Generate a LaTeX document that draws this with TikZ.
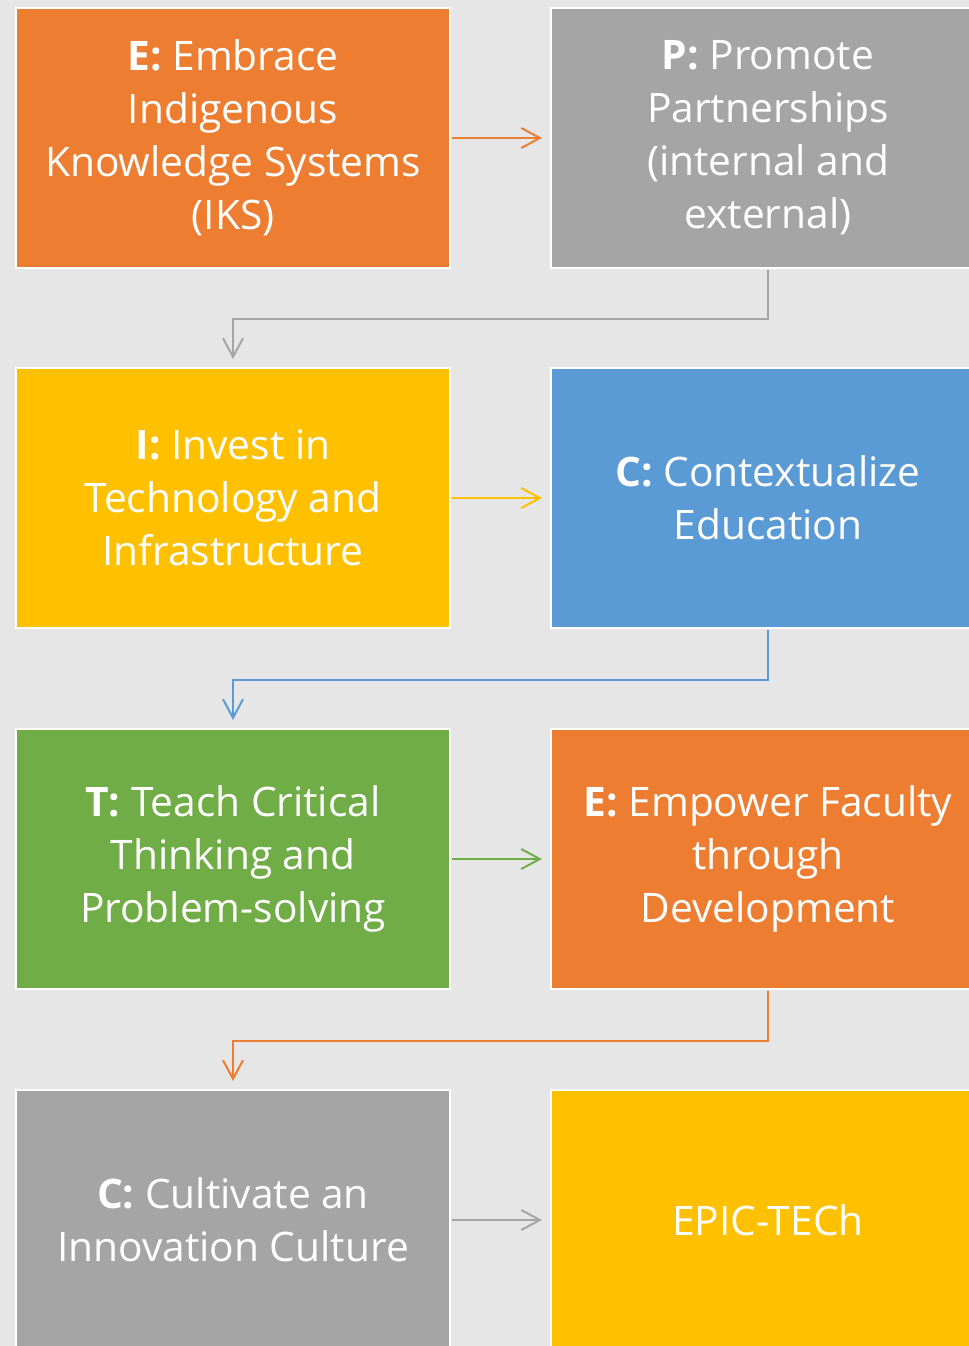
\documentclass[tikz,border=0pt]{standalone}
\usepackage{fontspec}
\setmainfont{Open Sans}
\usetikzlibrary{arrows.meta}
\definecolor{bggrey}{HTML}{E7E6E6}
\definecolor{accorange}{HTML}{ED7D31}
\definecolor{accgrey}{HTML}{A5A5A5}
\definecolor{accyellow}{HTML}{FFC000}
\definecolor{accblue}{HTML}{5B9BD5}
\definecolor{accgreen}{HTML}{70AD47}

\begin{document}
\begin{tikzpicture}[
  x=0.75pt, y=-0.75pt,
  >={Straight Barb[length=14pt, width=15pt, line width=1.5pt]},
  every node/.style={font=\fontsize{30.5}{39.75}\selectfont, text=white, align=center},
  stepbox/.style={rectangle, minimum width=325.5pt, minimum height=195pt, draw=white, line width=1.5pt, inner sep=0pt},
  orangebox/.style={stepbox, fill=accorange},
  greybox/.style={stepbox, fill=accgrey},
  yellowbox/.style={stepbox, fill=accyellow},
  bluebox/.style={stepbox, fill=accblue},
  greenbox/.style={stepbox, fill=accgreen},
  link/.style={->, line width=1.5pt, shorten >=6pt, shorten <=1pt},
]

\useasboundingbox (0,0) rectangle (969,1346);
\clip (0,0) rectangle (969,1346);
\fill[bggrey] (0,0) rectangle (969,1346);

% ---- row 1 ----
\node[orangebox] (e1) at (233, 138)  {\textbf{E:} Embrace\\Indigenous\\Knowledge Systems\\(IKS)};
\node[greybox]   (p2) at (768, 138)  {\textbf{P:} Promote\\Partnerships\\(internal and\\external)};

% ---- row 2 ----
\node[yellowbox] (i3) at (233, 498)  {\textbf{I:} Invest in\\Technology and\\Infrastructure};
\node[bluebox]   (c4) at (768, 498)  {\textbf{C:} Contextualize\\Education};

% ---- row 3 ----
\node[greenbox]  (t5) at (233, 859)  {\textbf{T:} Teach Critical\\Thinking and\\Problem-solving};
\node[orangebox] (e6) at (768, 859)  {\textbf{E:} Empower Faculty\\through\\Development};

% ---- row 4 ----
\node[greybox]   (c7)   at (233, 1220) {\textbf{C:} Cultivate an\\Innovation Culture};
\node[yellowbox] (epic) at (768, 1220) {EPIC-TECh};

% ---- links ----
\draw[link, accorange] (e1) -- (p2);
\draw[link, accgrey]   (p2.south) -- ++(0,50) -| (i3.north);
\draw[link, accyellow] (i3) -- (c4);
\draw[link, accblue]   (c4.south) -- ++(0,51) -| (t5.north);
\draw[link, accgreen]  (t5) -- (e6);
\draw[link, accorange] (e6.south) -- ++(0,51) -| (c7.north);
\draw[link, accgrey]   (c7) -- (epic);

\end{tikzpicture}
\end{document}
